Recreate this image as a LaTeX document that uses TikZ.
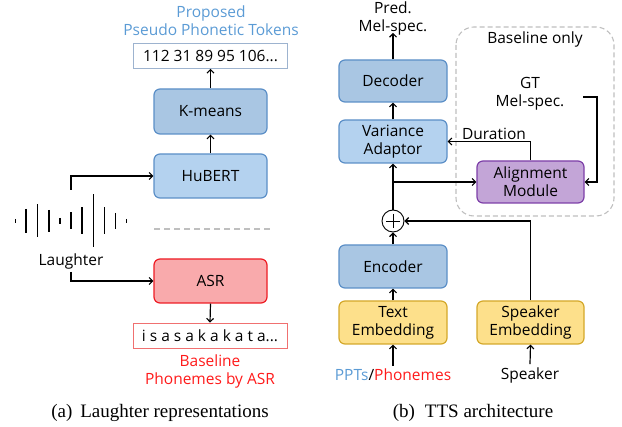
\documentclass[tikz,border=0pt]{standalone}
\usepackage{fontspec}
\setmainfont{Open Sans}
\newfontfamily\capfont{Liberation Serif}
\usetikzlibrary{arrows.meta,calc}
\definecolor{bluefillA}{HTML}{A9C6E3}
\definecolor{bluefillB}{HTML}{B4D2EF}
\definecolor{blueedge}{HTML}{5B8FC7}
\definecolor{redfill}{HTML}{F9AAAC}
\definecolor{rededge}{HTML}{EE1C24}
\definecolor{yelfill}{HTML}{FDE08B}
\definecolor{yeledge}{HTML}{D4A82A}
\definecolor{purfill}{HTML}{C3A5D7}
\definecolor{puredge}{HTML}{7D3FA8}
\definecolor{proptext}{HTML}{5B9BD5}
\definecolor{redtext}{HTML}{FF1A1A}
\definecolor{dashgray}{HTML}{BFBFBF}
\definecolor{tokedge}{HTML}{9DB3CF}
\definecolor{phoedge}{HTML}{F07070}
\tikzset{
  x=1pt, y=-1pt,
  every node/.style={font=\fontsize{15.5}{18}\selectfont, align=center, inner sep=0pt},
  blk/.style={draw=blueedge, line width=1.2pt, rounded corners=6pt, text width=100pt},
  arr/.style={-{Straight Barb[length=3.5pt,width=7pt,line width=1.1pt]}, line width=1.2pt},
  bar/.style={line width=1.6pt},
  capstyle/.style={font=\capfont\fontsize{19}{22}\selectfont},
}
\begin{document}
\begin{tikzpicture}
\useasboundingbox (0,0) rectangle (622,427);
% ---------- left panel ----------
\node[text=proptext] (prop) at (211,21) {Proposed\\Pseudo Phonetic Tokens};
\node[draw=tokedge, line width=0.8pt, minimum width=154pt, minimum height=25pt] (tok) at (210.5,56) {112 31 89 95 106...};
\node[blk, fill=bluefillA, minimum width=113pt, minimum height=45pt, text width=105pt] (kmeans) at (210.5,111.5) {K-means};
\node[blk, fill=bluefillB, minimum width=113pt, minimum height=44pt, text width=105pt] (hubert) at (210.5,176) {HuBERT};
\node[blk, draw=rededge, fill=redfill, minimum width=113pt, minimum height=44pt, text width=105pt] (asr) at (210.5,281) {ASR};
\node[draw=phoedge, line width=0.8pt, minimum width=154pt, minimum height=25pt] (pho) at (210,335.5) {i s a s a k a k a t a...};
\node[text=redtext] (base) at (210,371) {Baseline\\Phonemes by ASR};
\node (laugh) at (71,261) {Laughter};
\coordinate (wtop) at (71,190);
\draw[dashgray, line width=1.5pt, dash pattern=on 6pt off 4pt] (154,229) -- (271,229);
% waveform
\foreach \xx/\hh in {15.3/4, 26/24, 37.3/33, 48.7/22, 60/6, 71/17, 82/27, 93.3/53, 104.3/27, 115.3/16, 126.3/4}{
  \draw[bar] (\xx,221-\hh/2) -- (\xx,221+\hh/2);
}
\draw[arr] (kmeans.north) -- (tok.south);
\draw[arr] (hubert.north) -- (kmeans.south);
\draw[arr] (wtop) |- (hubert.west);
\draw[arr] ($(laugh.south)+(0,3)$) |- (asr.west);
\draw[arr] (asr.south) -- (pho.north);
\node[capstyle] (capa) at (160,413) {(a)\, Laughter representations};
% ---------- right panel ----------
\draw[dashgray, line width=1.1pt, dash pattern=on 5pt off 3pt, rounded corners=18pt] (456,27) rectangle (614,216);
\node (pred) at (393,18) {Pred.\\Mel-spec.};
\node (bonly) at (535,39) {Baseline only};
\node (gt) at (530,94) {GT\\Mel-spec.};
\node[blk, fill=bluefillA, minimum width=108pt, minimum height=42pt] (dec) at (393,81) {Decoder};
\node[blk, fill=bluefillB, minimum width=108pt, minimum height=43pt] (var) at (393,141.5) {Variance\\Adaptor};
\node[blk, draw=puredge, fill=purfill, minimum width=107pt, minimum height=42pt] (align) at (530.5,182) {Alignment\\Module};
\node[draw, circle, line width=0.9pt, minimum size=22pt] (plus) at (393,221) {};
\draw[line width=0.5pt] ($(plus.center)+(-7,0)$) -- ($(plus.center)+(7,0)$) ($(plus.center)+(0,-7)$) -- ($(plus.center)+(0,7)$);
\node[blk, fill=bluefillA, minimum width=108pt, minimum height=43pt] (enc) at (393,266.5) {Encoder};
\node[blk, draw=yeledge, fill=yelfill, minimum width=108pt, minimum height=43pt] (temb) at (393,322.5) {Text\\Embedding};
\node[blk, draw=yeledge, fill=yelfill, minimum width=107pt, minimum height=43pt] (semb) at (530.5,322.5) {Speaker\\Embedding};
\node (ppt) at (393,375) {\textcolor{proptext}{PPTs}/\textcolor{redtext}{Phonemes}};
\node (spk) at (530,375) {Speaker};
\coordinate (br) at (393,182);
\coordinate (gtl) at (583,97);
\coordinate (gtr) at (597,97);
\draw[arr] (dec.north) -- ($(pred.south)+(0,-2)$);
\draw[arr] (var.north) -- (dec.south);
\draw[arr] (plus.north) -- (var.south);
\draw[arr] (br) -- (align.west);
\draw[arr] (align.north) |- node[pos=0.72, above=1pt] (dur) {Duration} (var.east);
\draw[arr] (gtl) -- (gtr) |- (align.east);
\draw[arr] (enc.north) -- (plus.south);
\draw[arr] (semb.north) |- (plus.east);
\draw[arr] (temb.north) -- (enc.south);
\draw[arr] ($(ppt.north)+(0,-3)$) -- (temb.south);
\draw[arr] ($(spk.north)+(0,-3)$) -- (semb.south);
\node[capstyle] (capb) at (473,413) {(b)\; TTS architecture};
\end{tikzpicture}
\end{document}
